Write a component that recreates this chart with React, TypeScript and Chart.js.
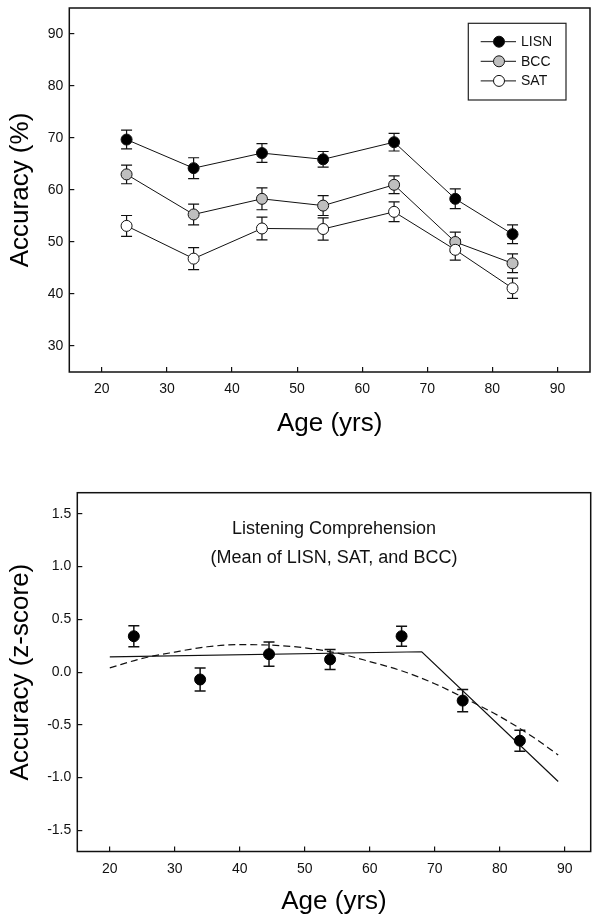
import React, { useEffect, useRef } from "react";
import { Chart, registerables } from "chart.js";

Chart.register(...registerables);

// ---------- data: top panel (percent accuracy) ----------
const AGES = [23.8, 34.1, 44.6, 54.0, 64.9, 74.3, 83.1];
const LISN = [69.7, 64.2, 67.1, 65.9, 69.2, 58.3, 51.5];
const LISN_ERR = [1.8, 2.0, 1.8, 1.5, 1.7, 1.9, 1.8];
const BCC = [63.0, 55.3, 58.3, 57.0, 61.0, 50.0, 45.9];
const BCC_ERR = [1.8, 2.0, 2.1, 1.9, 1.7, 1.9, 1.8];
const SAT = [53.1, 46.8, 52.6, 52.5, 55.8, 48.5, 41.1];
const SAT_ERR = [2.0, 2.1, 2.2, 2.15, 1.9, 2.0, 1.95];
const TOP_X_TICKS = [20, 30, 40, 50, 60, 70, 80, 90];
const TOP_Y_TICKS = [30, 40, 50, 60, 70, 80, 90];
const SERIES_NAMES = ["LISN", "BCC", "SAT"];

// ---------- data: bottom panel (z-score) ----------
const Z_AGES = [23.7, 33.9, 44.5, 53.9, 64.9, 74.3, 83.1];
const Z_MEAN = [0.34, -0.07, 0.17, 0.12, 0.34, -0.27, -0.65];
const Z_ERR = [0.1, 0.11, 0.115, 0.095, 0.095, 0.105, 0.1];
const PIECE_X = [20, 68, 89];
const PIECE_Y = [0.145, 0.193, -1.037];
const QUAD_X = [20, 25, 30, 35, 40, 45, 50, 55, 60, 65, 70, 75, 80, 85, 89];
const QUAD_Y = [0.04, 0.13, 0.19, 0.24, 0.26, 0.255, 0.23, 0.18, 0.1, 0.01, -0.11, -0.26, -0.42, -0.61, -0.785];
const BOT_X_TICKS = [20, 30, 40, 50, 60, 70, 80, 90];
const BOT_Y_TICKS = [-1.5, -1.0, -0.5, 0.0, 0.5, 1.0, 1.5];
const ANNOTATION = ["Listening Comprehension", "(Mean of LISN, SAT, and BCC)"];

const FONT = '"Liberation Sans", Arial, Helvetica, sans-serif';
const INK = "#111";

const toXY = (xs: number[], ys: number[]) => xs.map((x, i) => ({ x, y: ys[i] }));

const errorBarPlugin = {
  id: "errorBars",
  beforeDatasetsDraw(chart: any) {
    const ctx = chart.ctx;
    const xs = chart.scales.x;
    const ys = chart.scales.y;
    chart.data.datasets.forEach((ds: any) => {
      if (!ds.errors) return;
      ctx.save();
      ctx.strokeStyle = INK;
      ctx.lineWidth = ds.errWidth || 1.2;
      const cap = 5.5;
      ds.data.forEach((p: any, i: number) => {
        const px = xs.getPixelForValue(p.x);
        const t = ys.getPixelForValue(p.y + ds.errors[i]);
        const b = ys.getPixelForValue(p.y - ds.errors[i]);
        ctx.beginPath();
        ctx.moveTo(px, t);
        ctx.lineTo(px, b);
        ctx.moveTo(px - cap, t);
        ctx.lineTo(px + cap, t);
        ctx.moveTo(px - cap, b);
        ctx.lineTo(px + cap, b);
        ctx.stroke();
      });
      ctx.restore();
    });
  },
};

const framePlugin = {
  id: "frame",
  afterDraw(chart: any) {
    const { ctx, chartArea: a } = chart;
    ctx.save();
    ctx.strokeStyle = INK;
    ctx.lineWidth = 1.5;
    ctx.strokeRect(a.left, a.top, a.right - a.left, a.bottom - a.top);
    ctx.restore();
  },
};

const legendPlugin = {
  id: "boxLegend",
  afterDraw(chart: any) {
    const { ctx, chartArea: a } = chart;
    const left = a.right - 121.7;
    const top = a.top + 15.3;
    const w = 97.7;
    const h = 76.7;
    ctx.save();
    ctx.strokeStyle = "#222";
    ctx.lineWidth = 1.2;
    ctx.strokeRect(left, top, w, h);
    ctx.font = `14px ${FONT}`;
    ctx.textBaseline = "middle";
    ctx.textAlign = "left";
    SERIES_NAMES.forEach((name, i) => {
      const ds = chart.data.datasets.find((d: any) => d.label === name);
      const y = top + 18.4 + 19.6 * i;
      ctx.strokeStyle = INK;
      ctx.lineWidth = 1;
      ctx.beginPath();
      ctx.moveTo(left + 12.4, y);
      ctx.lineTo(left + 47.7, y);
      ctx.stroke();
      ctx.beginPath();
      ctx.arc(left + 30.7, y, 5.5, 0, Math.PI * 2);
      ctx.fillStyle = ds.pointBackgroundColor;
      ctx.fill();
      ctx.stroke();
      ctx.fillStyle = INK;
      ctx.fillText(name, left + 52.7, y + 0.5);
    });
    ctx.restore();
  },
};

const annotationPlugin = {
  id: "annot",
  afterDraw(chart: any) {
    const { ctx, chartArea: a } = chart;
    ctx.save();
    ctx.font = `18px ${FONT}`;
    ctx.fillStyle = INK;
    ctx.textAlign = "center";
    ctx.textBaseline = "middle";
    const cx = (a.left + a.right) / 2;
    ctx.fillText(ANNOTATION[0], cx, a.top + 36.3);
    ctx.fillText(ANNOTATION[1], cx, a.top + 65.3);
    ctx.restore();
  },
};

function axisCommon(ticks: number[], fmt: (v: number) => string, pad: number) {
  return {
    type: "linear" as const,
    afterBuildTicks: (s: any) => {
      s.ticks = ticks.map((v) => ({ value: v }));
    },
    grid: {
      display: true,
      drawOnChartArea: false,
      drawTicks: true,
      tickLength: -5,
      color: INK,
      lineWidth: 1.2,
    },
    border: { display: false },
    ticks: {
      padding: pad,
      color: INK,
      autoSkip: false,
      maxRotation: 0,
      font: { family: FONT, size: 14 },
      callback: (v: any) => fmt(Number(v)),
    },
  };
}

const fixX = (h: number) => (s: any) => {
  s.height = h;
  s.paddingLeft = 0;
  s.paddingRight = 0;
  s.paddingTop = 0;
  s.paddingBottom = 0;
};
const fixY = (w: number) => (s: any) => {
  s.width = w;
  s.paddingLeft = 0;
  s.paddingRight = 0;
  s.paddingTop = 0;
  s.paddingBottom = 0;
};

export default function App() {
  const topRef = useRef<HTMLCanvasElement>(null);
  const botRef = useRef<HTMLCanvasElement>(null);

  useEffect(() => {
    const point = (label: string, ys: number[], errs: number[], fill: string, order: number) => ({
      label,
      data: toXY(AGES, ys),
      errors: errs,
      borderColor: INK,
      borderWidth: 1,
      pointRadius: 5.5,
      pointBackgroundColor: fill,
      pointBorderColor: INK,
      pointBorderWidth: 1,
      showLine: true,
      tension: 0,
      order,
    });

    const top = new Chart(topRef.current!, {
      type: "line",
      data: {
        datasets: [
          point("LISN", LISN, LISN_ERR, "#000000", 2),
          point("BCC", BCC, BCC_ERR, "#bfbfbf", 1),
          point("SAT", SAT, SAT_ERR, "#ffffff", 0),
        ] as any,
      },
      options: {
        animation: false,
        responsive: false,
        devicePixelRatio: 1,
        layout: { padding: { top: 8, right: 11, left: 0, bottom: 0 } },
        plugins: { legend: { display: false }, tooltip: { enabled: false } },
        scales: {
          x: {
            ...axisCommon(TOP_X_TICKS, (v) => String(v), 14),
            min: 15,
            max: 95,
            afterFit: fixX(88),
            title: {
              display: true,
              text: "Age (yrs)",
              color: "#000",
              font: { family: FONT, size: 26, lineHeight: 1.2 },
              padding: { top: 0, bottom: 20.4 },
            },
          },
          y: {
            ...axisCommon(TOP_Y_TICKS, (v) => String(v), 11),
            min: 25,
            max: 95,
            afterFit: fixY(69.3),
            title: {
              display: true,
              text: "Accuracy (%)",
              color: "#000",
              font: { family: FONT, size: 26, lineHeight: 1.2 },
              padding: { top: 5.5, bottom: 0 },
            },
          },
        } as any,
      },
      plugins: [errorBarPlugin, framePlugin, legendPlugin],
    });

    const bot = new Chart(botRef.current!, {
      type: "line",
      data: {
        datasets: [
          {
            label: "Means",
            data: toXY(Z_AGES, Z_MEAN),
            errors: Z_ERR,
            errWidth: 1.5,
            showLine: false,
            pointRadius: 5.5,
            pointBackgroundColor: "#000",
            pointBorderColor: "#000",
            pointBorderWidth: 1,
            order: 0,
          },
          {
            label: "Segmented",
            data: toXY(PIECE_X, PIECE_Y),
            borderColor: INK,
            borderWidth: 1.2,
            pointRadius: 0,
            showLine: true,
            tension: 0,
            order: 1,
          },
          {
            label: "Quadratic",
            data: toXY(QUAD_X, QUAD_Y),
            borderColor: INK,
            borderWidth: 1.2,
            borderDash: [7, 4],
            pointRadius: 0,
            showLine: true,
            cubicInterpolationMode: "monotone",
            order: 2,
          },
        ] as any,
      },
      options: {
        animation: false,
        responsive: false,
        devicePixelRatio: 1,
        layout: { padding: { top: 32.7, right: 10.3, left: 0, bottom: 0 } },
        plugins: { legend: { display: false }, tooltip: { enabled: false } },
        scales: {
          x: {
            ...axisCommon(BOT_X_TICKS, (v) => String(v), 14),
            min: 15,
            max: 94,
            afterFit: fixX(71.5),
            title: {
              display: true,
              text: "Age (yrs)",
              color: "#000",
              font: { family: FONT, size: 26, lineHeight: 1.2 },
              padding: { top: 0, bottom: 5.4 },
            },
          },
          y: {
            ...axisCommon(BOT_Y_TICKS, (v) => v.toFixed(1), 11),
            min: -1.7,
            max: 1.7,
            afterFit: fixY(77.3),
            title: {
              display: true,
              text: "Accuracy (z-score)",
              color: "#000",
              font: { family: FONT, size: 26, lineHeight: 1.2 },
              padding: { top: 5, bottom: 0 },
            },
          },
        } as any,
      },
      plugins: [errorBarPlugin, framePlugin, annotationPlugin],
    });

    return () => {
      top.destroy();
      bot.destroy();
    };
  }, []);

  return (
    <div style={{ position: "absolute", left: 0, top: 0, width: 601, height: 923, background: "#fff" }}>
      <canvas
        ref={topRef}
        width={601}
        height={460}
        style={{ position: "absolute", left: 0, top: 0, width: 601, height: 460, display: "block" }}
      />
      <canvas
        ref={botRef}
        width={601}
        height={463}
        style={{ position: "absolute", left: 0, top: 460, width: 601, height: 463, display: "block" }}
      />
    </div>
  );
}
